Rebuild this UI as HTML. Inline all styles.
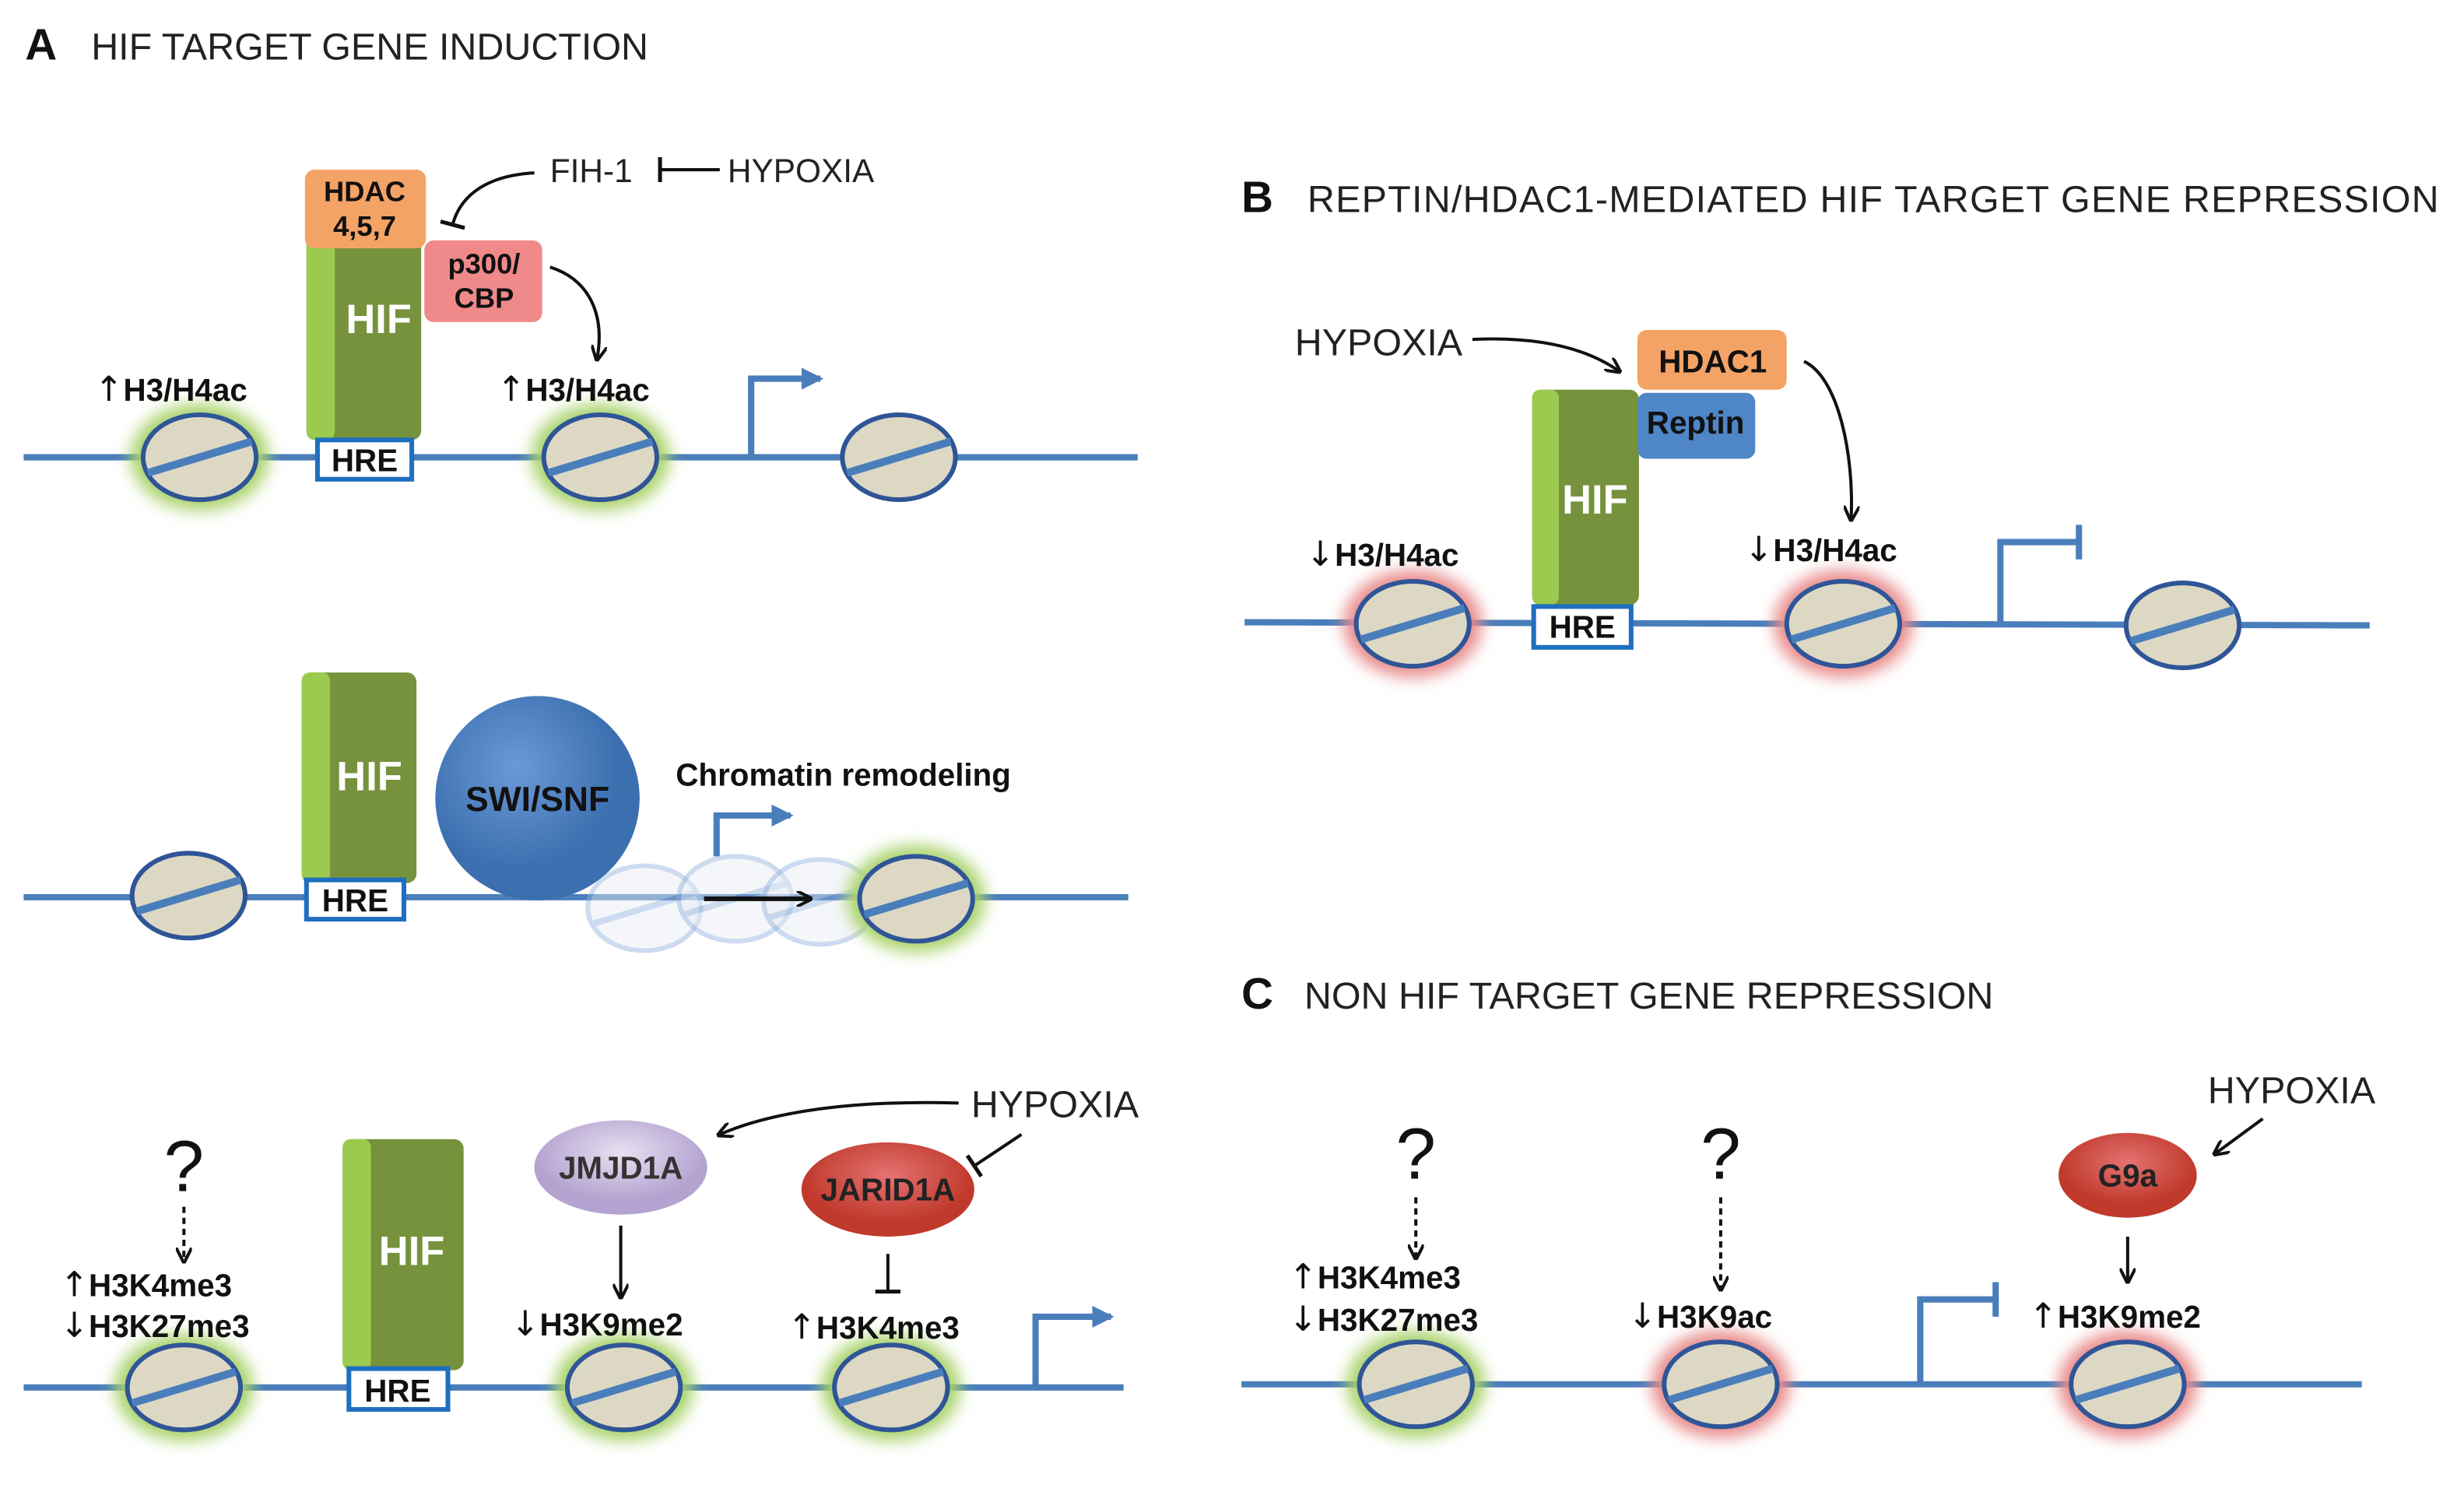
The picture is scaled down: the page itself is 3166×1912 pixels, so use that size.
<!DOCTYPE html>
<html><head><meta charset="utf-8"><style>
html,body{margin:0;padding:0;background:#fff;}
svg{display:block;}
text{font-family:"Liberation Sans",sans-serif;}
.t{font-size:24px;fill:#222;}
.b{font-size:20px;font-weight:bold;fill:#111;}
.w{font-size:26px;font-weight:bold;fill:#fff;}
.a{font-family:"DejaVu Sans",sans-serif;font-size:22px;font-weight:normal;}
</style></head><body>
<svg width="3166" height="1912" viewBox="0 0 1568 947" xmlns="http://www.w3.org/2000/svg">
<defs>
<filter id="gl" x="-50%" y="-50%" width="200%" height="200%"><feGaussianBlur stdDeviation="5"/></filter>
<marker id="ar" markerWidth="10" markerHeight="10" refX="8" refY="5" orient="auto" markerUnits="userSpaceOnUse"><path d="M0,0 L10,5 L0,10" fill="none" stroke="#111" stroke-width="2"/></marker>
<marker id="arb" markerWidth="14" markerHeight="14" refX="12" refY="7" orient="auto" markerUnits="userSpaceOnUse"><path d="M0,0 L14,7 L0,14 Z" fill="#4a7ebb"/></marker>
<marker id="ti" markerWidth="4" markerHeight="16" refX="2" refY="8" orient="auto" markerUnits="userSpaceOnUse"><path d="M2,0 L2,16" stroke="#111" stroke-width="2.5"/></marker>
<g id="nuc"><ellipse rx="36" ry="27" fill="#ddd8c4" stroke="#2f5597" stroke-width="3"/><path d="M-33,10 L33,-10" stroke="#4a7ebb" stroke-width="5"/></g>
<g id="fnuc" opacity="0.45"><ellipse rx="36" ry="27" fill="#e8edf4" stroke="#8fb0dd" stroke-width="3"/><path d="M-33,10 L33,-10" stroke="#8fb0dd" stroke-width="4"/></g>
<ellipse id="gg" rx="44" ry="34" fill="#a9d26a" filter="url(#gl)"/>
<ellipse id="rg" rx="44" ry="34" fill="#e88a8a" filter="url(#gl)"/>
<radialGradient id="sw" cx="40%" cy="35%"><stop offset="0" stop-color="#6a9ad6"/><stop offset="1" stop-color="#3c6fb0"/></radialGradient>
<radialGradient id="pu" cx="50%" cy="35%"><stop offset="0" stop-color="#e8e0f2"/><stop offset="1" stop-color="#b4a3d0"/></radialGradient>
<radialGradient id="rd" cx="50%" cy="35%"><stop offset="0" stop-color="#e57373"/><stop offset="1" stop-color="#c0392b"/></radialGradient>
</defs>

<!-- Panel A -->
<text x="16" y="38" style="font-size:28px;font-weight:bold;fill:#111">A</text>
<text x="58" y="38" class="t">HIF TARGET GENE INDUCTION</text>

<line x1="15" y1="291" x2="724" y2="291" stroke="#4a7ebb" stroke-width="4"/>
<use href="#gg" x="127" y="291"/><use href="#gg" x="382" y="291"/>
<use href="#nuc" x="127" y="291"/><use href="#nuc" x="382" y="291"/><use href="#nuc" x="572" y="291"/>
<rect x="195" y="140" width="73" height="140" rx="6" fill="#76923c"/>
<rect x="195" y="140" width="18" height="140" rx="5" fill="#9bca4f"/>
<text x="241" y="212" class="w" text-anchor="middle">HIF</text>
<rect x="202" y="280" width="60" height="25" fill="#fff" stroke="#1f6fc0" stroke-width="3"/>
<text x="232" y="300" class="b" text-anchor="middle">HRE</text>
<rect x="194" y="108" width="77" height="50" rx="6" fill="#f4a366"/>
<text x="232" y="128" class="b" text-anchor="middle" style="font-size:18px">HDAC</text>
<text x="232" y="150" class="b" text-anchor="middle" style="font-size:18px">4,5,7</text>
<rect x="270" y="153" width="75" height="52" rx="6" fill="#f08a8a"/>
<text x="308" y="174" class="b" text-anchor="middle" style="font-size:18px">p300/</text>
<text x="308" y="196" class="b" text-anchor="middle" style="font-size:18px">CBP</text>
<text x="350" y="116" class="t" style="font-size:21px">FIH-1</text>
<path d="M340,110 C305,112 292,128 288,143" fill="none" stroke="#111" stroke-width="2" marker-end="url(#ti)"/>
<line x1="458" y1="108" x2="420" y2="108" stroke="#111" stroke-width="2" marker-end="url(#ti)"/>
<text x="463" y="116" class="t" style="font-size:21px">HYPOXIA</text>
<path d="M350,170 C375,178 385,200 380,228" fill="none" stroke="#111" stroke-width="2" marker-end="url(#ar)"/>
<text x="60" y="255" class="b"><tspan class="a">↑</tspan>H3/H4ac</text>
<text x="316" y="255" class="b"><tspan class="a">↑</tspan>H3/H4ac</text>
<path d="M478,291 L478,241 L522,241" fill="none" stroke="#4a7ebb" stroke-width="4" marker-end="url(#arb)"/>

<line x1="15" y1="571" x2="718" y2="571" stroke="#4a7ebb" stroke-width="4"/>
<use href="#nuc" x="120" y="570"/>
<rect x="192" y="428" width="73" height="134" rx="6" fill="#76923c"/>
<rect x="192" y="428" width="18" height="134" rx="5" fill="#9bca4f"/>
<text x="235" y="503" class="w" text-anchor="middle">HIF</text>
<rect x="195" y="560" width="62" height="25" fill="#fff" stroke="#1f6fc0" stroke-width="3"/>
<text x="226" y="580" class="b" text-anchor="middle">HRE</text>
<circle cx="342" cy="508" r="65" fill="url(#sw)"/>
<text x="342" y="516" class="b" text-anchor="middle" style="font-size:22px">SWI/SNF</text>
<use href="#fnuc" x="410" y="578"/><use href="#fnuc" x="468" y="572"/><use href="#fnuc" x="522" y="574"/>
<use href="#gg" x="583" y="572"/><use href="#nuc" x="583" y="572"/>
<line x1="448" y1="572" x2="515" y2="572" stroke="#111" stroke-width="3" marker-end="url(#ar)"/>
<path d="M456,545 L456,519 L503,519" fill="none" stroke="#4a7ebb" stroke-width="4" marker-end="url(#arb)"/>
<text x="430" y="500" class="b">Chromatin remodeling</text>

<line x1="15" y1="883" x2="715" y2="883" stroke="#4a7ebb" stroke-width="4"/>
<use href="#gg" x="117" y="883"/><use href="#gg" x="397" y="883"/><use href="#gg" x="567" y="883"/>
<use href="#nuc" x="117" y="883"/><use href="#nuc" x="397" y="883"/><use href="#nuc" x="567" y="883"/>
<rect x="218" y="725" width="77" height="147" rx="6" fill="#76923c"/>
<rect x="218" y="725" width="18" height="147" rx="5" fill="#9bca4f"/>
<text x="262" y="805" class="w" text-anchor="middle">HIF</text>
<rect x="222" y="871" width="63" height="26" fill="#fff" stroke="#1f6fc0" stroke-width="3"/>
<text x="253" y="892" class="b" text-anchor="middle">HRE</text>
<text x="117" y="758" text-anchor="middle" style="font-size:46px;fill:#111">?</text>
<line x1="117" y1="768" x2="117" y2="802" stroke="#111" stroke-width="2" stroke-dasharray="4,3" marker-end="url(#ar)"/>
<text x="38" y="825" class="b"><tspan class="a">↑</tspan>H3K4me3</text>
<text x="38" y="851" class="b"><tspan class="a">↓</tspan>H3K27me3</text>
<ellipse cx="395" cy="743" rx="55" ry="30" fill="url(#pu)"/>
<text x="395" y="750" class="b" text-anchor="middle" style="fill:#333">JMJD1A</text>
<line x1="395" y1="780" x2="395" y2="825" stroke="#111" stroke-width="2" marker-end="url(#ar)"/>
<text x="325" y="850" class="b"><tspan class="a">↓</tspan>H3K9me2</text>
<ellipse cx="565" cy="757" rx="55" ry="30" fill="url(#rd)"/>
<text x="565" y="764" class="b" text-anchor="middle" style="fill:#222">JARID1A</text>
<line x1="565" y1="798" x2="565" y2="822" stroke="#111" stroke-width="2" marker-end="url(#ti)"/>
<text x="501" y="852" class="b"><tspan class="a">↑</tspan>H3K4me3</text>
<text x="618" y="711" class="t">HYPOXIA</text>
<path d="M610,702 C540,700 490,708 458,722" fill="none" stroke="#111" stroke-width="2" marker-end="url(#ar)"/>
<line x1="650" y1="722" x2="620" y2="742" stroke="#111" stroke-width="2" marker-end="url(#ti)"/>
<path d="M659,883 L659,838 L707,838" fill="none" stroke="#4a7ebb" stroke-width="4" marker-end="url(#arb)"/>

<!-- Panel B -->
<text x="790" y="135" style="font-size:28px;font-weight:bold;fill:#111">B</text>
<text x="832" y="135" class="t" textLength="720">REPTIN/HDAC1-MEDIATED HIF TARGET GENE REPRESSION</text>
<line x1="792" y1="396" x2="1508" y2="398" stroke="#4a7ebb" stroke-width="4"/>
<use href="#rg" x="899" y="397"/><use href="#rg" x="1173" y="397"/>
<use href="#nuc" x="899" y="397"/><use href="#nuc" x="1173" y="397"/><use href="#nuc" x="1389" y="398"/>
<rect x="975" y="248" width="68" height="137" rx="6" fill="#76923c"/>
<rect x="975" y="248" width="17" height="137" rx="5" fill="#9bca4f"/>
<text x="1015" y="327" class="w" text-anchor="middle">HIF</text>
<rect x="976" y="386" width="62" height="26" fill="#fff" stroke="#1f6fc0" stroke-width="3"/>
<text x="1007" y="406" class="b" text-anchor="middle">HRE</text>
<rect x="1042" y="210" width="95" height="38" rx="6" fill="#f4a366"/>
<text x="1090" y="237" class="b" text-anchor="middle">HDAC1</text>
<rect x="1042" y="250" width="75" height="42" rx="6" fill="#4f86c6"/>
<text x="1079" y="276" class="b" text-anchor="middle">Reptin</text>
<text x="824" y="226" class="t">HYPOXIA</text>
<path d="M937,216 C980,214 1010,222 1030,236" fill="none" stroke="#111" stroke-width="2" marker-end="url(#ar)"/>
<path d="M1148,230 C1170,240 1180,290 1178,330" fill="none" stroke="#111" stroke-width="2" marker-end="url(#ar)"/>
<text x="831" y="360" class="b"><tspan class="a">↓</tspan>H3/H4ac</text>
<text x="1110" y="357" class="b"><tspan class="a">↓</tspan>H3/H4ac</text>
<path d="M1273,397 L1273,345 L1323,345" fill="none" stroke="#4a7ebb" stroke-width="4"/>
<line x1="1323" y1="334" x2="1323" y2="356" stroke="#4a7ebb" stroke-width="4"/>

<!-- Panel C -->
<text x="790" y="642" style="font-size:28px;font-weight:bold;fill:#111">C</text>
<text x="830" y="642" class="t">NON HIF TARGET GENE REPRESSION</text>
<line x1="790" y1="881" x2="1503" y2="881" stroke="#4a7ebb" stroke-width="4"/>
<use href="#gg" x="901" y="881"/><use href="#rg" x="1095" y="881"/><use href="#rg" x="1354" y="881"/>
<use href="#nuc" x="901" y="881"/><use href="#nuc" x="1095" y="881"/><use href="#nuc" x="1354" y="881"/>
<text x="901" y="750" text-anchor="middle" style="font-size:46px;fill:#111">?</text>
<line x1="901" y1="762" x2="901" y2="800" stroke="#111" stroke-width="2" stroke-dasharray="4,3" marker-end="url(#ar)"/>
<text x="820" y="820" class="b"><tspan class="a">↑</tspan>H3K4me3</text>
<text x="820" y="847" class="b"><tspan class="a">↓</tspan>H3K27me3</text>
<text x="1095" y="750" text-anchor="middle" style="font-size:46px;fill:#111">?</text>
<line x1="1095" y1="762" x2="1095" y2="820" stroke="#111" stroke-width="2" stroke-dasharray="4,3" marker-end="url(#ar)"/>
<text x="1036" y="845" class="b"><tspan class="a">↓</tspan>H3K9ac</text>
<ellipse cx="1354" cy="748" rx="44" ry="27" fill="url(#rd)"/>
<text x="1354" y="755" class="b" text-anchor="middle" style="fill:#222">G9a</text>
<line x1="1354" y1="787" x2="1354" y2="815" stroke="#111" stroke-width="2" marker-end="url(#ar)"/>
<text x="1291" y="845" class="b"><tspan class="a">↑</tspan>H3K9me2</text>
<text x="1405" y="702" class="t">HYPOXIA</text>
<line x1="1440" y1="712" x2="1410" y2="734" stroke="#111" stroke-width="2" marker-end="url(#ar)"/>
<path d="M1222,881 L1222,827 L1270,827" fill="none" stroke="#4a7ebb" stroke-width="4"/>
<line x1="1270" y1="816" x2="1270" y2="838" stroke="#4a7ebb" stroke-width="4"/>
</svg>
</body></html>
